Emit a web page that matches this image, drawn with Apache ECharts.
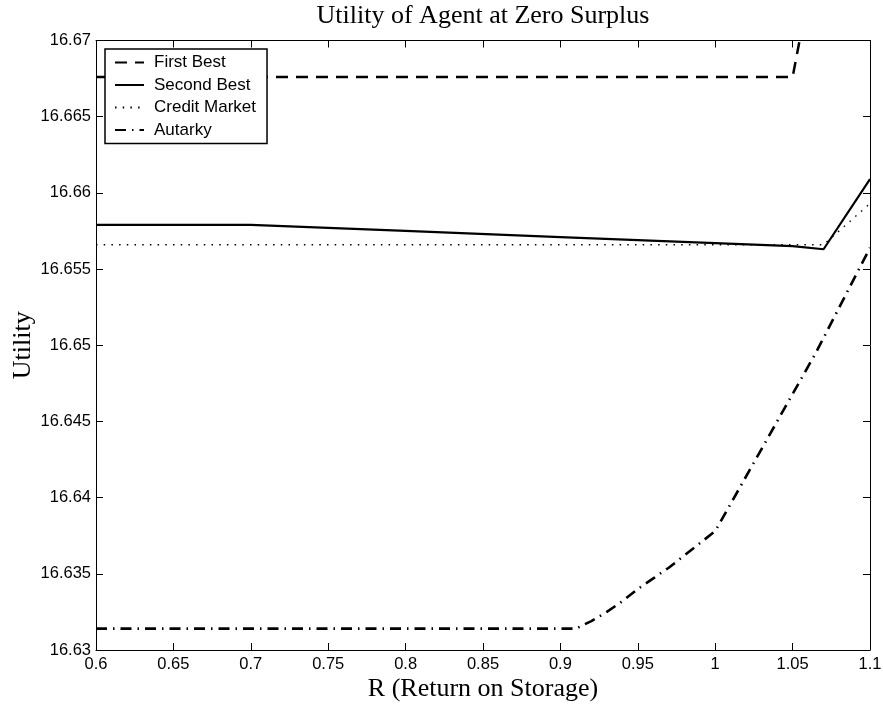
<!DOCTYPE html>
<html>
<head>
<meta charset="utf-8">
<script src="https://cdn.jsdelivr.net/npm/echarts@6/dist/echarts.min.js"></script>
<style>html,body{margin:0;padding:0;background:#fff;}#c{width:883px;height:706px;}</style>
</head>
<body>
<div id="c"></div>
<script>
const xTicks = { min: 0.6, max: 1.1, step: 0.05 };
const yTicks = { min: 16.63, max: 16.67, step: 0.005 };

const firstBestR = [0.6, 1.05, 1.06];
const firstBestU = [16.6676, 16.6676, 16.6729];

const secondBestR = [0.6, 0.7, 0.8, 0.9, 1.0, 1.05, 1.07, 1.1];
const secondBestU = [16.6579, 16.6579, 16.6575, 16.6571, 16.6567, 16.6565, 16.6563, 16.6609];

const creditR = [0.6, 1.07, 1.1];
const creditU = [16.6566, 16.6566, 16.6593];

const autarkyR = [0.6, 0.91, 0.92, 0.93, 0.94, 0.95, 0.96, 0.97, 0.98, 0.99, 1.0, 1.035, 1.065, 1.1];
const autarkyU = [16.6314, 16.6314, 16.6319, 16.6325, 16.6332, 16.6340, 16.6347, 16.6354, 16.6362, 16.6370, 16.6378, 16.6441, 16.6495, 16.6564];

const pairs = (xs, ys) => xs.map((x, i) => [x, ys[i]]);
const fmt = v => parseFloat(v.toFixed(4)).toString();

const sans = 'Liberation Sans';
const serif = 'Liberation Serif';

function xAx(pos, show) {
  return {
    type: 'value', position: pos, min: xTicks.min, max: xTicks.max, interval: xTicks.step,
    axisLine: { show: true, onZero: false, lineStyle: { color: '#000', width: 1 } },
    axisTick: { show: true, inside: true, length: 7, lineStyle: { color: '#000', width: 1 } },
    axisLabel: { show: show, formatter: fmt, color: '#000', fontFamily: sans, fontSize: 16.5, margin: 6 },
    splitLine: { show: false },
    name: show ? 'R (Return on Storage)' : '', nameLocation: 'middle', nameGap: 26, nameMoveOverlap: false,
    nameTextStyle: { color: '#000', fontFamily: serif, fontSize: 26 }
  };
}
function yAx(pos, show) {
  return {
    type: 'value', position: pos, min: yTicks.min, max: yTicks.max, interval: yTicks.step,
    axisLine: { show: true, onZero: false, lineStyle: { color: '#000', width: 1 } },
    axisTick: { show: true, inside: true, length: 7, lineStyle: { color: '#000', width: 1 } },
    axisLabel: { show: show, formatter: fmt, color: '#000', fontFamily: sans, fontSize: 16.5, margin: 5 },
    splitLine: { show: false },
    name: show ? 'Utility' : '', nameLocation: 'middle', nameGap: 60, nameRotate: 90, nameMoveOverlap: false,
    nameTextStyle: { color: '#000', fontFamily: serif, fontSize: 26 }
  };
}

const chart = echarts.init(document.getElementById('c'), null, { renderer: 'canvas' });
chart.setOption({
  backgroundColor: '#fff',
  animation: false,
  title: {
    text: 'Utility of Agent at Zero Surplus',
    left: 483, textAlign: 'center', top: 3, padding: 0,
    textStyle: { color: '#000', fontFamily: serif, fontSize: 26, fontWeight: 'normal' }
  },
  grid: { left: 96, right: 13, top: 40.5, bottom: 56, containLabel: false, outerBoundsMode: 'none' },
  legend: {
    orient: 'vertical', left: 105, top: 49,
    padding: [5, 11, 5, 9], itemWidth: 29, itemHeight: 14, itemGap: 5.5,
    borderColor: '#000', borderWidth: 1.5, backgroundColor: '#fff',
    itemStyle: { opacity: 0 },
    textStyle: { color: '#000', fontFamily: sans, fontSize: 17, padding: [0, 0, 0, 5] },
    data: ['First Best', 'Second Best', 'Credit Market', 'Autarky']
  },
  xAxis: [xAx('bottom', true), xAx('top', false)],
  yAxis: [yAx('left', true), yAx('right', false)],
  series: [
    { name: 'First Best', type: 'line', data: pairs(firstBestR, firstBestU), showSymbol: false, symbol: 'none', clip: true,
      lineStyle: { color: '#000', width: 2.5, type: [12, 8] }, itemStyle: { color: '#000', opacity: 0 } },
    { name: 'Second Best', type: 'line', data: pairs(secondBestR, secondBestU), showSymbol: false, symbol: 'none', clip: true,
      lineStyle: { color: '#000', width: 2.2, type: 'solid' }, itemStyle: { color: '#000', opacity: 0 } },
    { name: 'Credit Market', type: 'line', data: pairs(creditR, creditU), showSymbol: false, symbol: 'none', clip: true,
      lineStyle: { color: '#000', width: 1.4, type: [1.5, 6.2] }, itemStyle: { color: '#000', opacity: 0 } },
    { name: 'Autarky', type: 'line', data: pairs(autarkyR, autarkyU), showSymbol: false, symbol: 'none', clip: true,
      lineStyle: { color: '#000', width: 2.6, type: [11, 6, 1.5, 6] }, itemStyle: { color: '#000', opacity: 0 } }
  ]
});
</script>
</body>
</html>
